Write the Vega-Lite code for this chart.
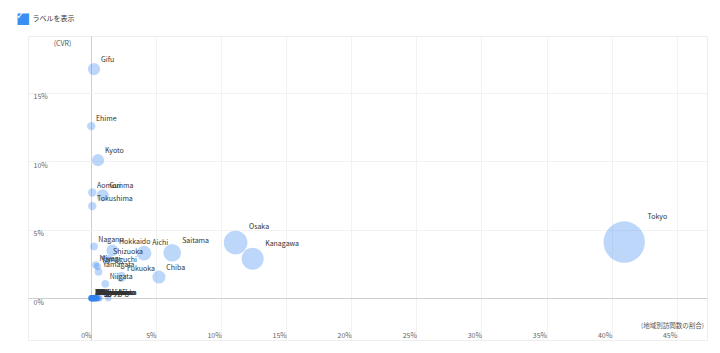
{
  "$schema": "https://vega.github.io/schema/vega-lite/v6.json",
  "width": 679,
  "height": 304,
  "autosize": "none",
  "padding": {"left": 28, "top": 36, "right": 13, "bottom": 13},
  "background": "white",
  "config": {"view": {"stroke": "#eeeeee"}, "font": "Noto Sans CJK JP"},
  "title": {
    "text": "■",
    "subtitle": "\u2009✓",
    "anchor": "start",
    "frame": "group",
    "font": "DejaVu Sans",
    "fontSize": 15,
    "fontWeight": "normal",
    "color": "#3d8ef2",
    "subtitleFont": "DejaVu Sans",
    "subtitleFontSize": 10,
    "subtitleFontWeight": "bold",
    "subtitleColor": "white",
    "subtitlePadding": -15,
    "dx": -12,
    "dy": 20,
    "offset": 8
  },
  "data": {
    "values": [
      {"pref": "Tokyo", "share": 0.4097, "cvr": 0.0410, "cv": 167},
      {"pref": "Kanagawa", "share": 0.1242, "cvr": 0.0288, "cv": 45},
      {"pref": "Osaka", "share": 0.1111, "cvr": 0.0406, "cv": 52},
      {"pref": "Saitama", "share": 0.0624, "cvr": 0.0332, "cv": 27},
      {"pref": "Chiba", "share": 0.0522, "cvr": 0.0154, "cv": 13},
      {"pref": "Aichi", "share": 0.0407, "cvr": 0.0329, "cv": 18},
      {"pref": "Hokkaido", "share": 0.0164, "cvr": 0.0349, "cv": 10},
      {"pref": "Fukuoka", "share": 0.0233, "cvr": 0.0154, "cv": 6},
      {"pref": "Shizuoka", "share": 0.0131, "cvr": 0.0283, "cv": 4},
      {"pref": "Niigata", "share": 0.0110, "cvr": 0.0105, "cv": 2},
      {"pref": "Nagano", "share": 0.0023, "cvr": 0.0378, "cv": 2},
      {"pref": "Gifu", "share": 0.0023, "cvr": 0.1674, "cv": 11},
      {"pref": "Ehime", "share": 0.0002, "cvr": 0.1257, "cv": 3},
      {"pref": "Kyoto", "share": 0.0054, "cvr": 0.1008, "cv": 11},
      {"pref": "Aomori", "share": 0.0010, "cvr": 0.0772, "cv": 3},
      {"pref": "Gunma", "share": 0.0090, "cvr": 0.0752, "cv": 11},
      {"pref": "Tokushima", "share": 0.0010, "cvr": 0.0673, "cv": 3},
      {"pref": "Miyagi", "share": 0.0035, "cvr": 0.0243, "cv": 1},
      {"pref": "Yamaguchi", "share": 0.0050, "cvr": 0.0232, "cv": 1},
      {"pref": "Yamagata", "share": 0.0058, "cvr": 0.0192, "cv": 2},
      {"pref": "Hyogo", "share": 0.0133, "cvr": 0, "cv": 0},
      {"pref": "Iwate", "share": 0.0005, "cvr": 0, "cv": 0},
      {"pref": "Akita", "share": 0.0002, "cvr": 0, "cv": 0},
      {"pref": "Fukushima", "share": 0.0040, "cvr": 0, "cv": 0},
      {"pref": "Ibaraki", "share": 0.0060, "cvr": 0, "cv": 0},
      {"pref": "Tochigi", "share": 0.0045, "cvr": 0, "cv": 0},
      {"pref": "Toyama", "share": 0.0015, "cvr": 0, "cv": 0},
      {"pref": "Ishikawa", "share": 0.0025, "cvr": 0, "cv": 0},
      {"pref": "Fukui", "share": 0.0008, "cvr": 0, "cv": 0},
      {"pref": "Yamanashi", "share": 0.0012, "cvr": 0, "cv": 0},
      {"pref": "Mie", "share": 0.0030, "cvr": 0, "cv": 0},
      {"pref": "Shiga", "share": 0.0020, "cvr": 0, "cv": 0},
      {"pref": "Nara", "share": 0.0035, "cvr": 0, "cv": 0},
      {"pref": "Wakayama", "share": 0.0010, "cvr": 0, "cv": 0},
      {"pref": "Tottori", "share": 0.0003, "cvr": 0, "cv": 0},
      {"pref": "Shimane", "share": 0.0004, "cvr": 0, "cv": 0},
      {"pref": "Okayama", "share": 0.0050, "cvr": 0, "cv": 0},
      {"pref": "Hiroshima", "share": 0.0065, "cvr": 0, "cv": 0},
      {"pref": "Kagawa", "share": 0.0018, "cvr": 0, "cv": 0},
      {"pref": "Kochi", "share": 0.0006, "cvr": 0, "cv": 0},
      {"pref": "Saga", "share": 0.0007, "cvr": 0, "cv": 0},
      {"pref": "Nagasaki", "share": 0.0028, "cvr": 0, "cv": 0},
      {"pref": "Kumamoto", "share": 0.0038, "cvr": 0, "cv": 0},
      {"pref": "Oita", "share": 0.0022, "cvr": 0, "cv": 0},
      {"pref": "Miyazaki", "share": 0.0016, "cvr": 0, "cv": 0},
      {"pref": "Kagoshima", "share": 0.0032, "cvr": 0, "cv": 0},
      {"pref": "Okinawa", "share": 0.0042, "cvr": 0, "cv": 0}
    ]
  },
  "layer": [
    {
      "mark": {"type": "circle", "color": "#3282f0", "opacity": 0.32, "strokeWidth": 0},
      "encoding": {
        "x": {
          "field": "share",
          "type": "quantitative",
          "scale": {"domain": [-0.0484, 0.4733], "nice": false, "zero": false},
          "axis": {
            "values": [0, 0.05, 0.1, 0.15, 0.2, 0.25, 0.3, 0.35, 0.4, 0.45],
            "format": ".0%",
            "grid": true,
            "gridColor": {"condition": {"test": "datum.value === 0", "value": "#cfcfcf"}, "value": "#f2f2f2"},
            "domain": false,
            "ticks": false,
            "tickSize": 0,
            "labelAlign": "right",
            "labelBaseline": "middle",
            "labelPadding": -4.5,
            "labelDx": -4,
            "labelFontSize": 7,
            "labelColor": "#666666",
            "labelFlush": false,
            "labelOverlap": false,
            "labelBound": false,
            "title": "(地域別訪問数の割合)",
            "titleX": 644,
            "titleY": -15,
            "titleAlign": "center",
            "titleBaseline": "middle",
            "titleFontSize": 6.5,
            "titleFontWeight": "normal",
            "titleColor": "#555555"
          }
        },
        "y": {
          "field": "cvr",
          "type": "quantitative",
          "scale": {"domain": [-0.0306, 0.1916], "nice": false, "zero": false},
          "axis": {
            "values": [0, 0.05, 0.1, 0.15],
            "format": ".0%",
            "grid": true,
            "gridColor": {"condition": {"test": "datum.value === 0", "value": "#cfcfcf"}, "value": "#f2f2f2"},
            "domain": false,
            "ticks": false,
            "tickSize": 0,
            "labelAlign": "left",
            "labelBaseline": "top",
            "labelPadding": -5,
            "labelDy": 3,
            "labelFontSize": 7,
            "labelColor": "#666666",
            "labelFlush": false,
            "labelOverlap": false,
            "labelBound": false,
            "title": "(CVR)",
            "titleAngle": 0,
            "titleX": 34,
            "titleY": 7,
            "titleAlign": "center",
            "titleBaseline": "middle",
            "titleFontSize": 7,
            "titleFontWeight": "normal",
            "titleColor": "#555555"
          }
        },
        "size": {
          "field": "cv",
          "type": "quantitative",
          "scale": {"domain": [0, 167], "range": [40, 1710], "zero": false},
          "legend": null
        }
      }
    },
    {
      "mark": {
        "type": "text",
        "align": "left",
        "baseline": "middle",
        "fontSize": 7,
        "color": "#333333",
        "dx": {"expr": "sqrt((40 + 10 * datum.cv) / PI)"},
        "dy": {"expr": "-sqrt((40 + 10 * datum.cv) / PI) - 2"}
      },
      "encoding": {
        "x": {
          "field": "share",
          "type": "quantitative",
          "axis": {
            "orient": "top",
            "labels": false,
            "ticks": false,
            "domain": false,
            "grid": false,
            "title": "ラベルを表示",
            "titleX": 4,
            "titleY": -18,
            "titleAlign": "left",
            "titleBaseline": "middle",
            "titleFontSize": 7,
            "titleFontWeight": "normal",
            "titleColor": "#333333"
          }
        },
        "y": {"field": "cvr", "type": "quantitative"},
        "text": {"field": "pref"}
      }
    }
  ],
  "resolve": {"axis": {"x": "independent"}}
}
